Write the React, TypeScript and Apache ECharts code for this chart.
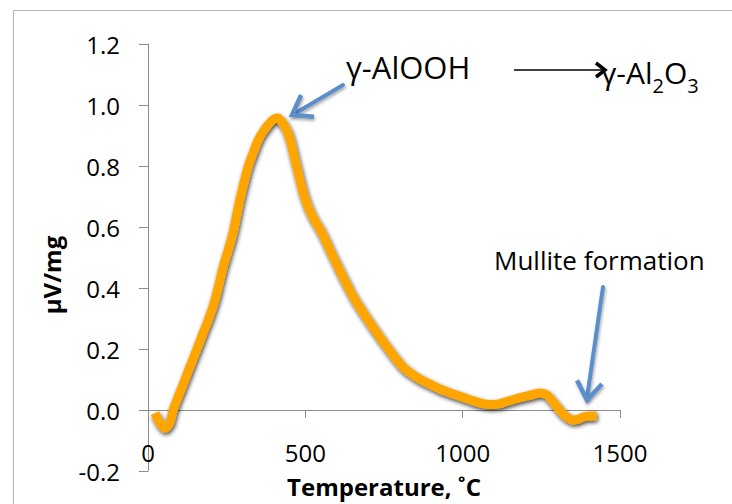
import React, { useEffect, useRef } from "react";
import * as echarts from "echarts";

const temperature = [
  22, 38, 54, 68, 80, 92, 112, 133, 155, 175, 195, 213, 239, 255, 270, 292, 318, 335, 350, 365,
  381, 395, 410, 425, 441, 452, 465, 483, 500, 520, 553, 578, 604, 630, 658, 693, 728, 768, 810,
  850, 887, 925, 960, 1000, 1033, 1060, 1087, 1115, 1141, 1170, 1192, 1220, 1246, 1268, 1285,
  1300, 1315, 1331, 1352, 1368, 1383, 1405, 1426,
];
const signal = [
  -0.01, -0.042, -0.06, -0.045, 0.0, 0.033, 0.085, 0.141, 0.198, 0.252, 0.305, 0.361, 0.469,
  0.525, 0.58, 0.689, 0.797, 0.845, 0.885, 0.912, 0.934, 0.95, 0.957, 0.945, 0.918, 0.885, 0.83,
  0.754, 0.69, 0.64, 0.58, 0.525, 0.469, 0.415, 0.361, 0.305, 0.252, 0.195, 0.141, 0.11, 0.089,
  0.07, 0.056, 0.042, 0.03, 0.022, 0.018, 0.02, 0.028, 0.037, 0.043, 0.05, 0.056, 0.049, 0.03,
  0.01, -0.008, -0.023, -0.033, -0.03, -0.023, -0.02, -0.02,
];

const xTitle = "Temperature, ˚C";
const yTitle = "µV/mg";
const peakNote = "γ-AlOOH";
const mulliteNote = "Mullite formation";
// γ-Al2O3 pieces: [text, isSubscript]
const productPieces: [string, boolean][] = [
  ["γ-Al", false],
  ["2", true],
  ["O", false],
  ["3", true],
];

const FONT = "'Open Sans', 'Liberation Sans', sans-serif";
const BLUE = "#5B8FC9";

function arrowHead(tipX: number, tipY: number, fromX: number, fromY: number, len: number, ang: number) {
  const dx = fromX - tipX;
  const dy = fromY - tipY;
  const d = Math.hypot(dx, dy);
  const ux = dx / d;
  const uy = dy / d;
  const r = (a: number) => [
    tipX + len * (ux * Math.cos(a) - uy * Math.sin(a)),
    tipY + len * (ux * Math.sin(a) + uy * Math.cos(a)),
  ];
  return [r(ang), [tipX, tipY], r(-ang)];
}

export default function App() {
  const ref = useRef<HTMLDivElement>(null);
  useEffect(() => {
    if (!ref.current) return;
    const chart = echarts.init(ref.current, null, { renderer: "svg" });
    const data = temperature.map((t, i) => [t, signal[i]]);
    const shadow = { shadowColor: "rgba(0,0,0,0.35)", shadowBlur: 3, shadowOffsetX: 1, shadowOffsetY: 2 };

    // product formula with real subscripts, measured piece by piece
    const productEls: any[] = [];
    let px = 601;
    for (const [t, sub] of productPieces) {
      const font = `${sub ? 20 : 30}px ${FONT}`;
      let w = 0;
      try {
        w = new (echarts.graphic as any).Text({ style: { text: t, font } }).getBoundingRect().width;
      } catch (e) {
        w = t.length * (sub ? 11 : 17);
      }
      productEls.push({
        type: "text",
        x: px,
        y: sub ? 85 : 72,
        style: { text: t, font, fill: "#000", align: "left", verticalAlign: "middle" },
      });
      px += w;
    }

    chart.setOption({
      animation: false,
      backgroundColor: "#ffffff",
      textStyle: { fontFamily: FONT },
      grid: { left: 148, top: 44, right: 112, bottom: 33, containLabel: false, outerBoundsMode: "none" },
      xAxis: {
        type: "value",
        min: 0,
        max: 1500,
        interval: 500,
        offset: -61,
        name: xTitle,
        nameLocation: "middle",
        nameGap: 64,
        nameTextStyle: { fontSize: 24, fontWeight: "bold", color: "#000", fontFamily: FONT },
        axisLine: { show: true, onZero: false, lineStyle: { color: "#8c8c8c", width: 1 } },
        axisTick: { show: true, length: 8, lineStyle: { color: "#8c8c8c" } },
        axisLabel: {
          fontSize: 24,
          color: "#000",
          margin: 30,
          fontFamily: FONT,
          formatter: (v: number) => String(v),
        },
        splitLine: { show: false },
      },
      yAxis: {
        type: "value",
        min: -0.2,
        max: 1.2,
        interval: 0.2,
        axisLine: { show: true, lineStyle: { color: "#8c8c8c", width: 1 } },
        axisTick: { show: true, length: 9, lineStyle: { color: "#8c8c8c" } },
        axisLabel: {
          fontSize: 24,
          color: "#000",
          margin: 28,
          fontFamily: FONT,
          formatter: (v: number) => v.toFixed(1),
        },
        splitLine: { show: false },
      },
      series: [
        {
          type: "line",
          data,
          smooth: 0.3,
          showSymbol: false,
          lineStyle: {
            color: "#FFA500",
            width: 9,
            shadowColor: "rgba(0,0,0,0.75)",
            shadowBlur: 4,
            shadowOffsetX: 1,
            shadowOffsetY: 2,
          },
          z: 3,
        },
      ],
      graphic: [
        {
          type: "rect",
          silent: true,
          shape: { x: 13.5, y: 10.5, width: 900, height: 700 },
          style: { fill: "none", stroke: "#b3b3b3", lineWidth: 1 },
          z: -1,
        },
        {
          type: "text",
          left: 346,
          top: 51,
          style: { text: peakNote, font: `31px ${FONT}`, fill: "#000" },
        },
        {
          type: "line",
          shape: { x1: 514, y1: 70, x2: 602, y2: 70 },
          style: { stroke: "#000", lineWidth: 1.5 },
        },
        {
          type: "polyline",
          shape: { points: [[596, 63], [605, 70], [596, 77]] },
          style: { stroke: "#000", lineWidth: 3.5, fill: "none" },
        },
        ...productEls,
        {
          type: "line",
          shape: { x1: 343, y1: 85, x2: 294, y2: 114 },
          style: { stroke: BLUE, lineWidth: 4, lineCap: "round", ...shadow },
        },
        {
          type: "polyline",
          shape: { points: arrowHead(292, 115, 343, 85, 22, (35 * Math.PI) / 180) },
          style: { stroke: BLUE, lineWidth: 4.5, fill: "none", lineJoin: "miter", ...shadow },
        },
        {
          type: "text",
          left: 494,
          top: 247,
          style: { text: mulliteNote, font: `26px ${FONT}`, fill: "#000" },
        },
        {
          type: "line",
          shape: { x1: 603, y1: 287, x2: 587, y2: 398 },
          style: { stroke: BLUE, lineWidth: 4, lineCap: "round", ...shadow },
        },
        {
          type: "polyline",
          shape: { points: arrowHead(587, 400, 603, 287, 22, (35 * Math.PI) / 180) },
          style: { stroke: BLUE, lineWidth: 4.5, fill: "none", lineJoin: "miter", ...shadow },
        },
        {
          type: "text",
          x: 51,
          y: 275,
          rotation: Math.PI / 2,
          style: {
            text: yTitle,
            font: `bold 24px ${FONT}`,
            fill: "#000",
            align: "center",
            verticalAlign: "middle",
          },
        },
      ],
    });
    return () => chart.dispose();
  }, []);
  return <div ref={ref} style={{ width: 732, height: 504, position: "absolute", left: 0, top: 0 }} />;
}
